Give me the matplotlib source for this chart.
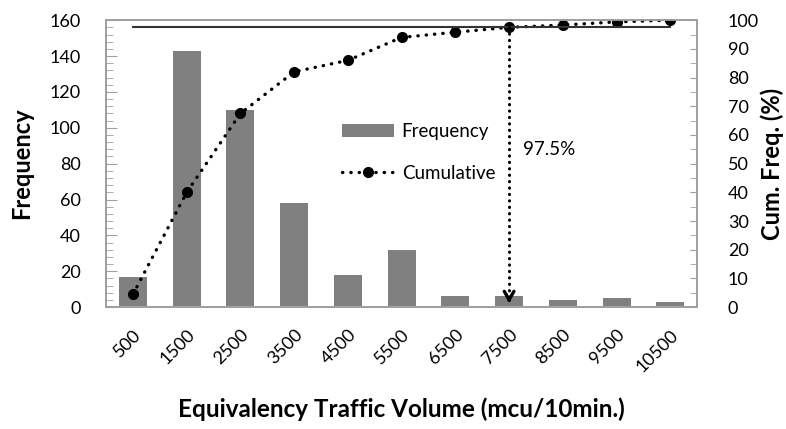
import matplotlib.pyplot as plt
from matplotlib.ticker import AutoMinorLocator, MultipleLocator
from matplotlib.transforms import ScaledTranslation

plt.rcParams['font.family'] = ['Lato', 'DejaVu Sans']

# data
volume = ['500', '1500', '2500', '3500', '4500', '5500',
          '6500', '7500', '8500', '9500', '10500']
frequency = [17, 143, 110, 58, 18, 32, 6, 6, 4, 5, 3]
cumulative = [4.5, 40, 67.5, 82, 86, 94, 95.8, 97.5, 98.3, 99.4, 100]
level = 97.5
level_idx = 7

fig = plt.figure(figsize=(7.86, 4.29), dpi=100)
ax1 = fig.add_axes([0.135, 0.284, 0.752, 0.669])
ax2 = ax1.twinx()

x = range(len(volume))
bars = ax1.bar(x, frequency, width=0.52, color='#808080', label='Frequency')
line, = ax2.plot(x, cumulative, color='black', lw=2.4, ls=(0, (0.1, 2.4)),
                 dash_capstyle='round', marker='o', ms=7, label='Cumulative')

# 97.5% line and arrow
ax2.plot([0, len(volume) - 1], [level, level], color='#333333', lw=1.5)
ax2.plot([level_idx, level_idx], [cumulative[level_idx], 3], color='black',
         lw=2.2, ls=(0, (0.1, 2.0)), dash_capstyle='round')
ax2.annotate('', xy=(level_idx, 0.5), xytext=(level_idx, 4),
             arrowprops=dict(arrowstyle='->, head_length=0.6, head_width=0.35',
                             color='black', lw=2.4))
ax2.text(level_idx + 0.25, 55, '97.5%', fontsize=13.5, va='center', ha='left')

ax1.set_xlim(-0.5, len(volume) - 0.5)
ax1.set_ylim(0, 160)
ax2.set_ylim(0, 100)
ax1.yaxis.set_major_locator(MultipleLocator(20))
ax1.yaxis.set_minor_locator(AutoMinorLocator(5))
ax2.yaxis.set_major_locator(MultipleLocator(10))
ax2.yaxis.set_minor_locator(AutoMinorLocator(2))

ax1.set_xticks(list(x))
ax1.set_xticklabels(volume, rotation=45, ha='right', rotation_mode='anchor')
shift = ScaledTranslation(-12 / 100, -8 / 100, fig.dpi_scale_trans)
for lab in ax1.get_xticklabels():
    lab.set_transform(lab.get_transform() + shift)
ax1.tick_params(axis='x', length=0, pad=14, labelsize=13)
ax1.tick_params(axis='y', which='both', direction='in', colors='#a0a0a0',
                labelcolor='black', labelsize=13, pad=18)
ax1.tick_params(axis='y', which='major', length=8)
ax1.tick_params(axis='y', which='minor', length=5)
ax2.tick_params(axis='y', which='both', direction='in', colors='#a0a0a0',
                labelcolor='black', labelsize=13, pad=22, length=5)

for ax in (ax1, ax2):
    for sp in ax.spines.values():
        sp.set_color('#a0a0a0')
        sp.set_linewidth(1.3)

ax1.set_ylabel('Frequency', fontsize=17, fontweight='bold', labelpad=12)
ax2.set_ylabel('Cum. Freq. (%)', fontsize=17, fontweight='bold', labelpad=1)
ax1.set_xlabel('Equivalency Traffic Volume (mcu/10min.)', fontsize=17.5,
               fontweight='bold', labelpad=16)

ax2.legend([bars, line], ['Frequency', 'Cumulative'], frameon=False,
           loc='upper left', bbox_to_anchor=(0.37, 0.7), fontsize=13.5,
           handlelength=2.8, labelspacing=1.3, handletextpad=0.4)

fig.savefig('out.png', dpi=100)
